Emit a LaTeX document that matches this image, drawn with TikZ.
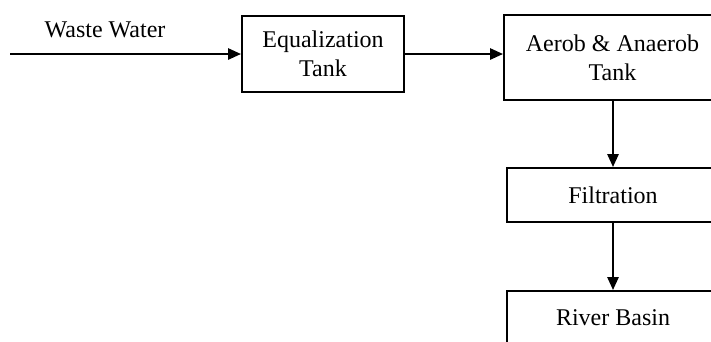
\documentclass[tikz,border=0pt]{standalone}
\usepackage{fontspec}
\setmainfont{Liberation Serif}
\usetikzlibrary{arrows.meta}
\begin{document}
\begin{tikzpicture}[x=1pt,y=-1pt,
  box/.style={draw,line width=1.8pt,align=center,inner sep=0pt,font=\fontsize{24}{29}\selectfont},
  flow/.style={line width=2.6pt,-{Triangle[length=13pt,width=11pt]}},
  lbl/.style={font=\fontsize{24}{29}\selectfont}]
\useasboundingbox (0,0) rectangle (711,341);
\clip (0,0) rectangle (711,341);
\node[box,minimum width=162pt,minimum height=76pt] (eq) at (323,54) {Equalization\\Tank};
\node[box,minimum width=217pt,minimum height=85pt] (ae) at (612.5,57.5) {Aerob \& Anaerob\\Tank};
\node[box,minimum width=212pt,minimum height=54pt] (fi) at (613,195) {Filtration};
\node[box,minimum width=212pt,minimum height=54pt] (rb) at (613,318) {River Basin};
\coordinate (in) at (10,54);
\node[lbl] (ww) at (105,30) {Waste Water};
\draw[flow] (in) -- (eq.west |- in);
\draw[flow] (eq.east |- in) -- (ae.west |- in);
\draw[flow] (ae.south -| 613,0) -- (fi.north -| 613,0);
\draw[flow] (fi.south -| 613,0) -- (rb.north -| 613,0);
\end{tikzpicture}
\end{document}
